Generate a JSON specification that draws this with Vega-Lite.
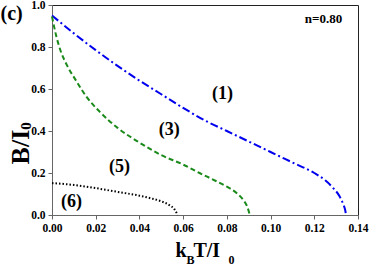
{
  "$schema": "https://vega.github.io/schema/vega-lite/v6.json",
  "width": 306,
  "height": 210,
  "autosize": {"type": "none"},
  "padding": {"left": 52, "top": 5, "right": 16, "bottom": 55},
  "background": "white",
  "config": {
    "view": {"stroke": "#222", "strokeWidth": 1},
    "font": "Liberation Serif",
    "axis": {
      "labelFont": "Liberation Serif",
      "labelFontWeight": "bold",
      "labelFontSize": 11.5,
      "labelColor": "#000",
      "labelFlush": false,
      "labelOverlap": false,
      "domainColor": "#666",
      "tickColor": "#666",
      "grid": false,
      "titleFont": "Liberation Serif"
    }
  },
  "datasets": {
    "curves": [
      {"s": "1", "x": 0, "y": 0.95},
      {"s": "1", "x": 0.01, "y": 0.865},
      {"s": "1", "x": 0.02, "y": 0.785},
      {"s": "1", "x": 0.03, "y": 0.71},
      {"s": "1", "x": 0.04, "y": 0.64},
      {"s": "1", "x": 0.05, "y": 0.575},
      {"s": "1", "x": 0.06, "y": 0.51},
      {"s": "1", "x": 0.07, "y": 0.45},
      {"s": "1", "x": 0.08, "y": 0.4},
      {"s": "1", "x": 0.09, "y": 0.35},
      {"s": "1", "x": 0.1, "y": 0.3},
      {"s": "1", "x": 0.11, "y": 0.25},
      {"s": "1", "x": 0.12, "y": 0.2},
      {"s": "1", "x": 0.125, "y": 0.165},
      {"s": "1", "x": 0.1285, "y": 0.13},
      {"s": "1", "x": 0.1315, "y": 0.09},
      {"s": "1", "x": 0.1333, "y": 0.05},
      {"s": "1", "x": 0.1342, "y": 0.02},
      {"s": "1", "x": 0.1345, "y": 0},
      {"s": "3", "x": 0, "y": 0.945},
      {"s": "3", "x": 0.002, "y": 0.85},
      {"s": "3", "x": 0.004, "y": 0.78},
      {"s": "3", "x": 0.007, "y": 0.71},
      {"s": "3", "x": 0.011, "y": 0.64},
      {"s": "3", "x": 0.016, "y": 0.56},
      {"s": "3", "x": 0.022, "y": 0.49},
      {"s": "3", "x": 0.03, "y": 0.415},
      {"s": "3", "x": 0.04, "y": 0.345},
      {"s": "3", "x": 0.05, "y": 0.285},
      {"s": "3", "x": 0.06, "y": 0.24},
      {"s": "3", "x": 0.0675, "y": 0.2},
      {"s": "3", "x": 0.075, "y": 0.162},
      {"s": "3", "x": 0.08, "y": 0.135},
      {"s": "3", "x": 0.085, "y": 0.1},
      {"s": "3", "x": 0.0875, "y": 0.072},
      {"s": "3", "x": 0.0895, "y": 0.035},
      {"s": "3", "x": 0.0905, "y": 0},
      {"s": "6", "x": 0, "y": 0.152},
      {"s": "6", "x": 0.01, "y": 0.143},
      {"s": "6", "x": 0.02, "y": 0.128},
      {"s": "6", "x": 0.03, "y": 0.11},
      {"s": "6", "x": 0.04, "y": 0.092},
      {"s": "6", "x": 0.045, "y": 0.08},
      {"s": "6", "x": 0.05, "y": 0.065},
      {"s": "6", "x": 0.054, "y": 0.045},
      {"s": "6", "x": 0.056, "y": 0.028},
      {"s": "6", "x": 0.057, "y": 0.01},
      {"s": "6", "x": 0.0575, "y": 0}
    ],
    "labels": [
      {"t": "(1)", "x": 0.078, "y": 0.574},
      {"t": "(3)", "x": 0.0537, "y": 0.403},
      {"t": "(5)", "x": 0.0309, "y": 0.227},
      {"t": "(6)", "x": 0.0089, "y": 0.06}
    ],
    "corner": [{"t": "(c)", "x": -0.0185, "y": 0.955}],
    "note": [{"t": "n=0.80", "x": 0.1242, "y": 0.932}],
    "xtitle": [
      {"t": "k", "x": 0.0565, "y": -0.2},
      {"t": "T/I", "x": 0.0647, "y": -0.2}
    ],
    "xsub": [
      {"t": "B", "x": 0.0615, "y": -0.232},
      {"t": "0", "x": 0.0807, "y": -0.232}
    ],
    "ytitle": [{"t": "B/I", "x": -0.01075, "y": 0.241}],
    "ysub": [{"t": "0", "x": -0.0098, "y": 0.406}]
  },
  "layer": [
    {
      "data": {"name": "curves"},
      "transform": [{"filter": "datum.s == '1'"}],
      "mark": {"type": "line", "color": "#0000ee", "strokeWidth": 2, "strokeDash": [8, 3, 2, 3], "interpolate": "monotone"},
      "encoding": {
        "x": {"field": "x", "type": "quantitative", "scale": {"domain": [0, 0.14], "nice": false},
          "axis": {"values": [0, 0.01, 0.02, 0.03, 0.04, 0.05, 0.06, 0.07, 0.08, 0.09, 0.1, 0.11, 0.12, 0.13, 0.14],
            "labelExpr": "round(datum.value*100) % 2 == 0 ? format(datum.value, '.2f') : ''",
            "tickSize": {"condition": {"test": "round(datum.value*100) % 2 == 1", "value": 2}, "value": 4},
            "title": null, "labelPadding": 3}},
        "y": {"field": "y", "type": "quantitative", "scale": {"domain": [0, 1], "nice": false},
          "axis": {"values": [0, 0.1, 0.2, 0.3, 0.4, 0.5, 0.6, 0.7, 0.8, 0.9, 1.0],
            "labelExpr": "round(datum.value*10) % 2 == 0 ? format(datum.value, '.1f') : ''",
            "tickSize": {"condition": {"test": "round(datum.value*10) % 2 == 1", "value": 2}, "value": 4},
            "title": null, "labelPadding": 3}}
      }
    },
    {
      "data": {"name": "curves"},
      "transform": [{"filter": "datum.s == '3'"}],
      "mark": {"type": "line", "color": "#1a8a1a", "strokeWidth": 2, "strokeDash": [5, 3], "interpolate": "monotone"},
      "encoding": {
        "x": {"field": "x", "type": "quantitative"},
        "y": {"field": "y", "type": "quantitative"}
      }
    },
    {
      "data": {"name": "curves"},
      "transform": [{"filter": "datum.s == '6'"}],
      "mark": {"type": "line", "color": "#000", "strokeWidth": 2, "strokeDash": [1.5, 2], "interpolate": "monotone"},
      "encoding": {
        "x": {"field": "x", "type": "quantitative"},
        "y": {"field": "y", "type": "quantitative"}
      }
    },
    {
      "data": {"name": "labels"},
      "mark": {"type": "text", "font": "Liberation Serif", "fontWeight": "bold", "fontSize": 18, "baseline": "middle", "align": "center"},
      "encoding": {
        "x": {"field": "x", "type": "quantitative"},
        "y": {"field": "y", "type": "quantitative"},
        "text": {"field": "t"}
      }
    },
    {
      "data": {"name": "corner"},
      "mark": {"type": "text", "font": "Liberation Serif", "fontWeight": "bold", "fontSize": 20, "baseline": "middle", "align": "center"},
      "encoding": {
        "x": {"field": "x", "type": "quantitative"},
        "y": {"field": "y", "type": "quantitative"},
        "text": {"field": "t"}
      }
    },
    {
      "data": {"name": "note"},
      "mark": {"type": "text", "font": "Liberation Serif", "fontWeight": "bold", "fontSize": 13, "baseline": "middle", "align": "center"},
      "encoding": {
        "x": {"field": "x", "type": "quantitative"},
        "y": {"field": "y", "type": "quantitative"},
        "text": {"field": "t"}
      }
    },
    {
      "data": {"name": "xtitle"},
      "mark": {"type": "text", "font": "Liberation Serif", "fontWeight": "bold", "fontSize": 20, "baseline": "alphabetic", "align": "left"},
      "encoding": {
        "x": {"field": "x", "type": "quantitative"},
        "y": {"field": "y", "type": "quantitative"},
        "text": {"field": "t"}
      }
    },
    {
      "data": {"name": "xsub"},
      "mark": {"type": "text", "font": "Liberation Serif", "fontWeight": "bold", "fontSize": 12, "baseline": "alphabetic", "align": "left"},
      "encoding": {
        "x": {"field": "x", "type": "quantitative"},
        "y": {"field": "y", "type": "quantitative"},
        "text": {"field": "t"}
      }
    },
    {
      "data": {"name": "ytitle"},
      "mark": {"type": "text", "font": "Liberation Serif", "fontWeight": "bold", "fontSize": 26, "baseline": "alphabetic", "align": "left", "angle": 270},
      "encoding": {
        "x": {"field": "x", "type": "quantitative"},
        "y": {"field": "y", "type": "quantitative"},
        "text": {"field": "t"}
      }
    },
    {
      "data": {"name": "ysub"},
      "mark": {"type": "text", "font": "Liberation Serif", "fontWeight": "bold", "fontSize": 15, "baseline": "alphabetic", "align": "left", "angle": 270},
      "encoding": {
        "x": {"field": "x", "type": "quantitative"},
        "y": {"field": "y", "type": "quantitative"},
        "text": {"field": "t"}
      }
    }
  ]
}
